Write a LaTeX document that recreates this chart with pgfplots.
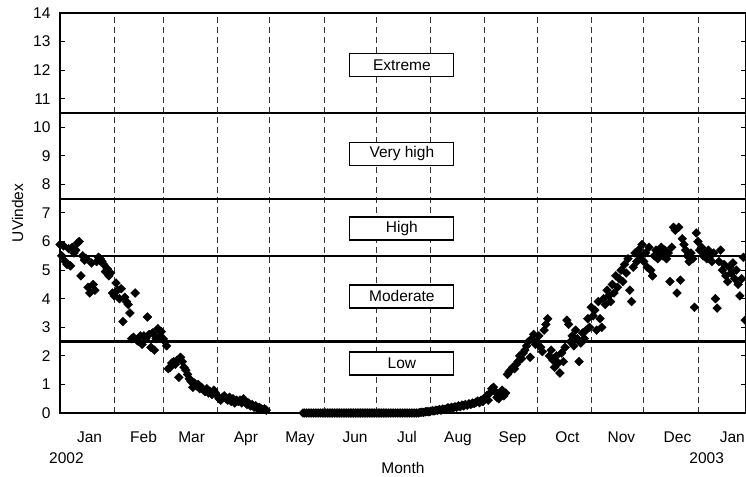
\documentclass[border=0pt]{standalone}
\usepackage{fontspec}
\setmainfont{Liberation Sans}
\usepackage{pgfplots}
\pgfplotsset{compat=1.18}
\newcommand{\fs}{\fontsize{15.5bp}{18bp}\selectfont}
\begin{document}
\begin{tikzpicture}
\begin{axis}[
  at={(0,0)}, anchor=south west,
  scale only axis, width=686bp, height=400bp,
  xmin=0, xmax=392.5, ymin=0, ymax=14,
  clip=false,
  axis line style={line width=1.6bp},
  ytick={0,1,...,14},
  ytick style={line width=1bp, black},
  tick align=inside,
  major tick length=5bp,
  yticklabel style={font=\fs, xshift=-6bp},
  /pgf/number format/assume math mode=true,
  xtick={31,59,90,120,151,181,212,243,273,304,334,365},
  xticklabels={},
  xtick style={draw=none},
  xmajorgrids,
  major x grid style={dash pattern=on 6bp off 4bp, black!80, line width=0.8bp},
  extra x ticks={16.9,47.8,75.3,106.4,137.3,168.8,198.5,227.7,258.9,290.3,321.2,353.3,384.7},
  extra x tick labels={Jan,Feb,Mar,Apr,May,Jun,Jul,Aug,Sep,Oct,Nov,Dec,Jan},
  extra x tick style={grid=none, xticklabel style={font=\fs, anchor=base, yshift=-29bp}},
  xlabel={Month}, ylabel={UVindex},
  every axis x label/.style={at={(axis description cs:0.5,0)}, anchor=base, yshift=-60bp, font=\fs},
  every axis y label/.style={at={(axis description cs:-0.062,0.5)}, anchor=center, rotate=90, font=\fs},
]
\addplot[black, line width=2.4bp, forget plot] coordinates {(0,2.5) (392.5,2.5)};
\addplot[black, line width=2.4bp, forget plot] coordinates {(0,5.5) (392.5,5.5)};
\addplot[black, line width=2.4bp, forget plot] coordinates {(0,7.5) (392.5,7.5)};
\addplot[black, line width=2.4bp, forget plot] coordinates {(0,10.5) (392.5,10.5)};
\addplot[only marks, mark=square*, mark size=3.1bp, mark options={rotate=45, fill=black, draw=black}] table {
d v
0 5.9
1 5.5
2 5.85
3 5.3
4 5.2
5 5.75
6 5.15
7 5.8
8 5.6
9 5.7
10 5.95
11 6.0
12 4.8
13 5.5
14 5.35
15 5.4
16 4.4
17 4.2
18 5.25
19 4.5
20 4.3
21 5.3
22 5.45
23 5.4
24 5.3
25 5.2
26 4.95
27 5.05
28 4.8
29 4.9
30 4.2
31 4.1
32 4.55
33 4.3
34 4.0
35 4.35
36 3.2
37 4.05
38 3.9
39 3.8
40 3.5
41 2.6
42 2.65
43 4.2
44 2.55
45 2.5
46 2.7
47 2.4
48 2.7
49 2.6
50 3.36
51 2.75
52 2.3
53 2.8
54 2.2
55 2.6
56 2.95
57 2.7
58 2.85
59 2.6
60 2.5
61 2.35
62 1.55
63 1.6
64 1.75
65 1.8
66 1.7
67 1.85
68 1.25
69 1.95
70 1.8
71 1.6
72 1.5
73 1.35
74 1.2
75 1.1
76 0.9
77 1.05
78 0.95
79 1.0
80 0.85
81 0.9
82 0.8
83 0.75
84 0.85
85 0.7
86 0.75
87 0.65
88 0.8
89 0.7
90 0.6
91 0.5
92 0.45
93 0.55
94 0.6
95 0.5
96 0.45
97 0.55
98 0.4
99 0.5
100 0.35
101 0.45
102 0.4
103 0.45
104 0.35
105 0.5
106 0.4
107 0.3
108 0.35
109 0.25
110 0.3
111 0.2
112 0.25
113 0.15
114 0.2
115 0.15
116 0.12
117 0.15
118 0.1
139 0
140 0
141 0
142 0
143 0
144 0
145 0
146 0
147 0
148 0
149 0
150 0
151 0
152 0
153 0
154 0
155 0
156 0
157 0
158 0
159 0
160 0
161 0
162 0
163 0
164 0
165 0
166 0
167 0
168 0
169 0
170 0
171 0
172 0
173 0
174 0
175 0
176 0
177 0
178 0
179 0
180 0
181 0
182 0
183 0
184 0
185 0
186 0
187 0
188 0
189 0
190 0
191 0
192 0
193 0
194 0
195 0
196 0
197 0
198 0
199 0
200 0
201 0
202 0
203 0
204 0
205 0
206 0.02
207 0.03
208 0.02
209 0.04
210 0.05
211 0.04
212 0.06
213 0.08
214 0.07
215 0.1
216 0.09
217 0.12
218 0.1
219 0.14
220 0.12
221 0.15
222 0.18
223 0.16
224 0.2
225 0.18
226 0.22
227 0.2
228 0.25
229 0.22
230 0.28
231 0.25
232 0.3
233 0.27
234 0.32
235 0.3
236 0.35
237 0.33
238 0.38
239 0.42
240 0.36
241 0.45
242 0.4
243 0.5
244 0.6
245 0.45
246 0.7
247 0.85
248 0.9
249 0.75
250 0.55
251 0.5
252 0.65
253 0.8
254 0.6
255 0.7
256 1.35
257 1.45
258 1.5
259 1.6
260 1.55
261 1.7
262 1.8
263 2.0
264 1.9
265 2.1
266 2.2
267 2.35
268 2.5
269 1.95
270 2.6
271 2.75
272 2.4
273 2.5
274 2.7
275 2.3
276 2.15
277 2.9
278 3.1
279 3.3
280 2.0
281 2.2
282 1.85
283 1.6
284 2.0
285 1.75
286 1.4
287 2.1
288 1.8
289 2.3
290 3.25
291 3.1
292 2.5
293 2.7
294 2.35
295 2.9
296 2.6
297 1.8
298 2.45
299 2.8
300 2.6
301 2.9
302 3.3
303 3.0
304 3.7
305 3.4
306 3.6
307 2.9
308 3.9
309 3.3
310 3.0
311 4.0
312 3.8
313 4.3
314 4.1
315 3.9
316 4.5
317 4.2
318 4.8
319 4.4
320 4.7
321 5.0
322 4.6
323 5.2
324 4.9
325 5.4
326 4.3
327 3.9
328 5.1
329 5.6
330 5.3
331 5.7
332 5.5
333 5.9
334 5.3
335 5.6
336 5.1
337 5.8
338 5.0
339 4.8
340 5.5
341 5.7
342 5.4
343 5.6
344 5.8
345 5.5
346 5.7
347 5.4
348 5.6
349 4.6
350 5.8
351 6.5
352 6.4
353 4.2
354 6.5
355 4.65
356 6.1
357 5.9
358 5.7
359 5.5
360 5.3
361 5.6
362 5.4
363 3.7
364 6.3
365 6.0
366 5.7
367 5.8
368 5.5
369 5.6
370 5.4
371 5.7
372 5.5
373 5.3
374 5.6
375 4.0
376 3.67
377 5.3
378 5.7
379 5.0
380 5.2
381 4.8
382 4.6
383 5.1
384 4.9
385 5.25
386 4.7
387 5.0
388 4.5
389 4.1
390 4.7
391 5.45
392 3.25
};
\node[font=\fs, anchor=base, yshift=-50bp] at (axis cs:3.7,0) {2002};
\node[font=\fs, anchor=base, yshift=-50bp] at (axis cs:370,0) {2003};
\tikzset{rbox/.style={draw=black, fill=white, line width=1.2bp, minimum width=104bp, minimum height=23bp, inner sep=0pt, font=\fs}}
\node[rbox] at (axis cs:195.6,12.18) {Extreme};
\node[rbox] at (axis cs:195.6,9.07) {Very high};
\node[rbox] at (axis cs:195.6,6.46) {High};
\node[rbox] at (axis cs:195.6,4.08) {Moderate};
\node[rbox] at (axis cs:195.6,1.73) {Low};
\end{axis}
\pgfresetboundingbox
\path (-60bp,-64bp) rectangle (686bp,413bp);
\end{tikzpicture}
\end{document}
